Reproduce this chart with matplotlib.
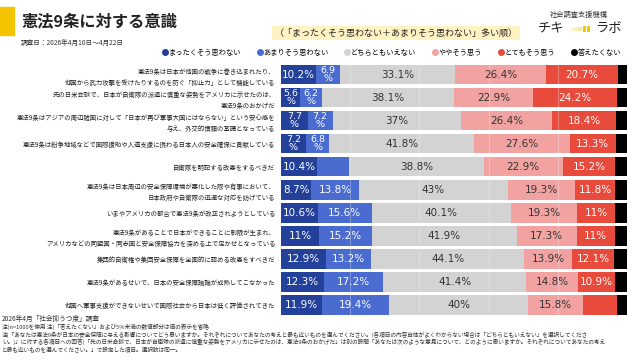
import matplotlib
matplotlib.use('Agg')
import matplotlib.pyplot as plt
from matplotlib.lines import Line2D
from matplotlib.patches import Rectangle

plt.rcParams['font.family'] = ['Noto Sans CJK JP', 'DejaVu Sans']

questions = [
    '憲法9条は日本が他国の戦争に巻き込まれたり、\n他国から武力攻撃を受けたりするのを防ぐ「抑止力」として機能している',
    '先の日米会談で、日本が自衛隊の派遣に慎重な姿勢をアメリカに示せたのは、\n憲法9条のおかげだ',
    '憲法9条はアジアの周辺諸国に対して「日本が再び軍事大国にはならない」という安心感を\n与え、外交的信頼の基礎となっている',
    '憲法9条は紛争地域などで国際援助や人道支援に携わる日本人の安全確保に貢献している',
    '自衛隊を明記する改憲をするべきだ',
    '憲法9条は日本周辺の安全保障環境が悪化した際や有事において、\n日本政府や自衛隊の迅速な対応を妨げている',
    'いまやアメリカの都合で憲法9条が改正されようとしている',
    '憲法9条があることで日本ができることに制限が生まれ、\nアメリカなどの同盟国・同志国と安全保障協力を深める上で足かせとなっている',
    '集団的自衛権や集団安全保障を全面的に認める改憲をすべきだ',
    '憲法9条があるせいで、日本の安全保障議論が成熟してこなかった',
    '他国へ軍事支援ができないせいで国際社会から日本は低く評価されてきた',
]

never = [10.2, 5.6, 7.7, 7.2, 10.4, 8.7, 10.6, 11, 12.9, 12.3, 11.9]
rarely = [6.9, 6.2, 7.2, 6.8, 9.3, 13.8, 15.6, 15.2, 13.2, 17.2, 19.4]
neutral = [33.1, 38.1, 37, 41.8, 38.8, 43, 40.1, 41.9, 44.1, 41.4, 40]
somewhat = [26.4, 22.9, 26.4, 27.6, 22.9, 19.3, 19.3, 17.3, 13.9, 14.8, 15.8]
very = [20.7, 24.2, 18.4, 13.3, 15.2, 11.8, 11, 11, 12.1, 10.9, 9.9]
no_answer = [2.7, 3.0, 3.3, 3.3, 3.4, 3.4, 3.4, 3.6, 3.8, 3.4, 3.0]

series_names = ['まったくそう思わない', 'あまりそう思わない', 'どちらともいえない',
                'ややそう思う', 'とてもそう思う', '答えたくない']
# cells left without a value label in the original
hidden = [(4, 1), (10, 4)]

colors = ['#23409a', '#4a6bd0', '#d3d3d3', '#f3a2a2', '#e84a3b', '#000000']
text_colors = ['white', 'white', '#333333', '#333333', 'white', 'white']

fig = plt.figure(figsize=(6.4, 3.6), dpi=100)
ax = fig.add_axes([0.439, 0.121, 0.541, 0.704])

series = [never, rarely, neutral, somewhat, very, no_answer]
ypos = list(range(len(questions)))
left = [0] * len(questions)
for s, vals in enumerate(series):
    ax.barh(ypos, vals, left=left, height=0.85, color=colors[s], zorder=2)
    if s < 5:
        for i, v in enumerate(vals):
            if v < 5 or (i, s) in hidden:
                continue
            if v < 8:
                lab = f'{v:g}\n%'
                fs = 6.8
            else:
                lab = f'{v:g}%'
                fs = 7.5
            ax.text(left[i] + v / 2, i, lab, ha='center', va='center', fontsize=fs,
                    color=text_colors[s], family='DejaVu Sans', linespacing=0.95, zorder=4)
    left = [l + v for l, v in zip(left, vals)]

for gx in [20, 40, 60, 80]:
    ax.axvline(gx, color='white', alpha=0.35, lw=0.6, zorder=3)

ax.set_xlim(0, 100)
ax.set_ylim(len(questions) - 0.5, -0.5)
ax.set_yticks(ypos)
ax.set_yticklabels(questions, fontsize=4.6, color='#222222', linespacing=1.5)
ax.tick_params(axis='y', length=0, pad=4)
ax.set_xticks([])
for sp in ax.spines.values():
    sp.set_visible(False)

# header
fig.patches.append(Rectangle((0, 1 - 35 / 360), 14 / 640, 28 / 360, transform=fig.transFigure,
                             color='#f5c400', zorder=1))
fig.text(21 / 640, 1 - 21.5 / 360, '憲法9条に対する意識', fontsize=11.7, fontweight='bold',
         va='center', ha='left', color='#222222')
fig.text(21 / 640, 1 - 43 / 360, '調査日：2026年4月10日～4月22日', fontsize=4.8,
         va='center', ha='left', color='#333333')
fig.text(396 / 640, 1 - 33 / 360, '（「まったくそう思わない＋あまりそう思わない」多い順）',
         fontsize=6.5, va='center', ha='center', color='#222222',
         bbox=dict(boxstyle='square,pad=0.25', fc='#fff3c4', ec='none'))

# logo
fig.text(579 / 640, 1 - 15 / 360, '社会調査支援機構', fontsize=5.2, ha='center', va='center',
         color='#333333')
fig.text(538 / 640, 1 - 29 / 360, 'チキ', fontsize=9.5, ha='left', va='center', color='#222222')
fig.text(622 / 640, 1 - 29 / 360, 'ラボ', fontsize=9.5, ha='right', va='center', color='#222222')
for k in range(6):
    fig.patches.append(Rectangle(((570 + k * 2) / 640, 1 - 31 / 360), 2 / 640, 4 / 360,
                                 transform=fig.transFigure, color='#f8e27a',
                                 alpha=0.2 + k * 0.12, lw=0))
for bx in [583, 587]:
    fig.patches.append(Rectangle((bx / 640, 1 - 32 / 360), 2.5 / 640, 6 / 360,
                                 transform=fig.transFigure, color='#f0c800', lw=0))

handles = [Line2D([], [], marker='o', ls='', color=c, markersize=4) for c in colors]
fig.legend(handles, series_names, loc='center', bbox_to_anchor=(392 / 640, 1 - 53 / 360), ncol=6,
           frameon=False, fontsize=5.2, handlelength=0.5, handletextpad=0.2, columnspacing=2.4)

notes = [
    '2026年4月「社会抑うつ度」調査',
    '注)n=1000を使用 注)「答えたくない」および5%未満の数値部分は値の表示を省略',
    '注)「あなたは憲法9条が日本の安全保障に与える影響についてどう思いますか。それぞれについてあなたの考えと最も近いものを選んでください。(各項目の内容自体がよくわからない場合は「どちらともいえない」を選択してくださ',
    'い。)」に対する各項目への回答(「先の日米会談で、日本が自衛隊の派遣に慎重な姿勢をアメリカに示せたのは、憲法9条のおかげだ」は別の設問「あなたは次のような意見について、どのように思いますか。それぞれについてあなたの考え',
    'と最も近いものを選んでください。」で設定した項目。選択肢は同一。',
]
note_y = [319, 327, 334.5, 342, 349.5]
note_size = [4.8, 4.1, 4.1, 4.1, 4.1]
for t, yy, fs in zip(notes, note_y, note_size):
    fig.text(2 / 640, 1 - yy / 360, t, fontsize=fs, ha='left', va='center', color='#333333')

fig.savefig('out.png', dpi=100)
